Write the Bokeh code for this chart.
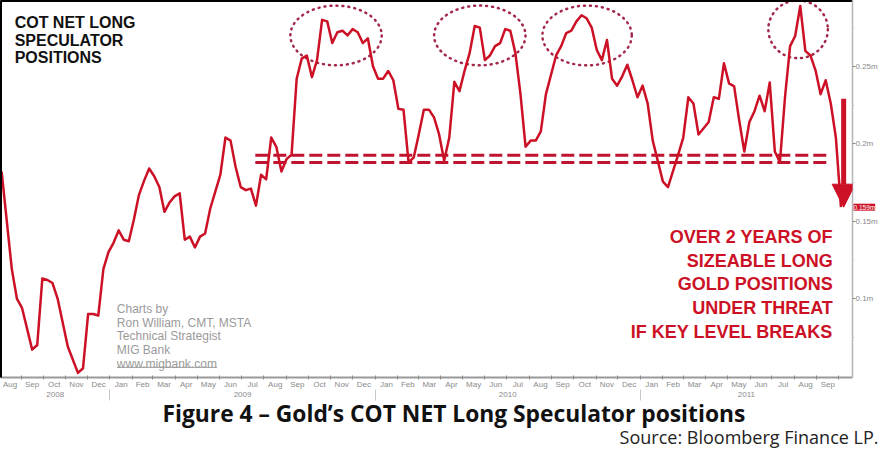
import numpy as np
import pandas as pd
from bokeh.plotting import figure
from bokeh.models import (Range1d, LinearAxis, FixedTicker, CustomJSTickFormatter,
                          Label, Title, Arrow, NormalHead)
from bokeh.embed import file_html
from bokeh.resources import INLINE

# ---------------- data ----------------
first_report = "2008-08-05"          # weekly COT reports
weeks = [0, 2, 3, 4, 6, 7, 8, 9, 10, 11,
         13, 15, 16, 17, 18, 19, 20, 21, 22, 23,
         24, 25, 26, 27, 28, 29, 30, 31, 32, 33,
         34, 35, 36, 37, 38, 39, 40, 41, 43, 44,
         45, 46, 47, 48, 49, 50, 51, 52, 53, 54,
         55, 56, 57, 58, 59, 60, 61, 62, 63, 64,
         65, 66, 67, 68, 69, 70, 71, 72, 73, 74,
         75, 76, 77, 78, 79, 80, 81, 82, 83, 84,
         85, 86, 87, 88, 89, 90, 91, 92, 93, 94,
         95, 96, 97, 98, 99, 100, 101, 102, 103, 104,
         105, 106, 107, 109, 110, 111, 112, 113, 114, 115,
         116, 117, 118, 119, 120, 121, 122, 123, 124, 125,
         126, 127, 128, 130, 131, 133, 134, 135, 136, 137,
         139, 140, 141, 142, 143, 144, 145, 146, 147, 148,
         149, 150, 151, 152, 153, 154, 155, 156, 157, 158,
         159, 160, 161, 162, 163, 164, 165]
net_long_m = [0.182, 0.119, 0.100, 0.094, 0.067, 0.070, 0.113, 0.112, 0.110, 0.100,
              0.069, 0.052, 0.055, 0.090, 0.090, 0.089, 0.119, 0.130, 0.136, 0.144,
              0.138, 0.137, 0.151, 0.167, 0.176, 0.184, 0.179, 0.172, 0.156, 0.162,
              0.166, 0.168, 0.138, 0.140, 0.133, 0.140, 0.142, 0.158, 0.180, 0.204,
              0.202, 0.185, 0.172, 0.170, 0.171, 0.160, 0.180, 0.177, 0.204, 0.198,
              0.182, 0.190, 0.193, 0.242, 0.255, 0.257, 0.243, 0.254, 0.280, 0.279,
              0.265, 0.272, 0.273, 0.270, 0.274, 0.272, 0.265, 0.268, 0.250, 0.242,
              0.242, 0.247, 0.241, 0.2225, 0.222, 0.188, 0.191, 0.206, 0.222, 0.222,
              0.217, 0.206, 0.189, 0.204, 0.240, 0.234, 0.247, 0.2585, 0.276, 0.275,
              0.254, 0.257, 0.263, 0.265, 0.274, 0.273, 0.2585, 0.232, 0.198, 0.202,
              0.202, 0.208, 0.232, 0.257, 0.263, 0.2715, 0.273, 0.279, 0.283, 0.281,
              0.275, 0.2605, 0.254, 0.267, 0.242, 0.2375, 0.2435, 0.251, 0.241, 0.230,
              0.2375, 0.226, 0.202, 0.1755, 0.172, 0.193, 0.204, 0.230, 0.226, 0.206,
              0.214, 0.230, 0.229, 0.252, 0.239, 0.237, 0.215, 0.195, 0.214, 0.221,
              0.231, 0.221, 0.2395, 0.195, 0.188, 0.230, 0.263, 0.2696, 0.289, 0.260,
              0.257, 0.2474, 0.232, 0.241, 0.226, 0.204, 0.159]
support_levels_m = [0.1925, 0.1878]
y_ticks_m = [0.10, 0.15, 0.20, 0.25]
last_value_m = net_long_m[-1]

title_lines = ["COT NET LONG", "SPECULATOR", "POSITIONS"]
credit_lines = ["Charts by", "Ron William, CMT, MSTA", "Technical Strategist",
                "MIG Bank", "www.migbank.com"]
warning_lines = ["OVER 2 YEARS OF", "SIZEABLE LONG", "GOLD POSITIONS",
                 "UNDER THREAT", "IF KEY LEVEL BREAKS"]
caption = "Figure 4 \u2013 Gold\u2019s COT NET Long Speculator positions"
source = "Source: Bloomberg Finance LP."

# ---------------- time axis (months since Aug 2008) ----------------
origin = pd.Timestamp("2008-08-01")
MONTH = 30.4375
dates = pd.Timestamp(first_report) + pd.to_timedelta(np.array(weeks) * 7, unit="D")
xs = ((dates - origin).days / MONTH).to_numpy()

month_starts = pd.date_range("2008-08-01", "2011-10-01", freq="MS")
mb = ((month_starts - origin).days / MONTH).to_numpy()
month_centers = list((mb[:-1] + mb[1:]) / 2)
month_labels = [d.strftime("%b") for d in month_starts[:-1]]

X0, X1 = 0.08, 38.6
year_bounds = [float(((pd.Timestamp(f"{y}-01-01") - origin).days) / MONTH) for y in (2009, 2010, 2011)]
edges = [X0] + year_bounds + [X1]
year_centers = [(edges[i] + edges[i + 1]) / 2 for i in range(4)]
year_labels = ["2008", "2009", "2010", "2011"]

RED = "#cc1126"
DARK_RED = "#bf1430"
DOT = "#a3284a"
NO_LABEL = dict(axis_label=None, axis_label_standoff=0, axis_label_text_font_size="0px")

p = figure(width=880, height=453, output_backend="svg", toolbar_location=None,
           x_range=Range1d(X0, X1), y_range=Range1d(0.049, 0.2925),
           x_axis_location=None, y_axis_location="right",
           min_border_left=0, min_border_right=0, min_border_top=0, min_border_bottom=0)
p.grid.visible = False
p.outline_line_color = None
p.background_fill_color = "white"

# right value axis
ya = p.yaxis[0]
ya.update(**NO_LABEL)
ya.ticker = FixedTicker(ticks=y_ticks_m, minor_ticks=[0.075, 0.125, 0.175, 0.225, 0.275])
ya.formatter = CustomJSTickFormatter(code="return tick.toFixed(2).replace(/0$/, '') + 'm';")
ya.major_label_text_font_size = "8px"
ya.major_label_text_font = "Liberation Sans"
ya.major_label_text_color = "#8a8a8a"
ya.major_label_standoff = 0
ya.axis_line_color = "#b5b5b5"
ya.axis_line_width = 1.5
ya.major_tick_in = 0
ya.major_tick_out = 3
ya.major_tick_line_color = "#888888"
ya.minor_tick_in = 0
ya.minor_tick_out = 2
ya.minor_tick_line_color = "#cccccc"

# frame lines (left / top) as bare axes
for side in ("left", "above"):
    ax = LinearAxis(ticker=FixedTicker(ticks=[]), axis_line_width=3, axis_line_color="black",
                    major_label_text_font_size="0px", major_tick_line_color=None,
                    minor_tick_line_color=None, major_label_standoff=0, **NO_LABEL)
    p.add_layout(ax, side)

lookup = """
let b = 0;
for (let i = 0; i < c.length; i++) { if (Math.abs(c[i] - tick) < Math.abs(c[b] - tick)) b = i; }
return lab[b];
"""
xa = LinearAxis(ticker=FixedTicker(ticks=month_centers, minor_ticks=list(mb)),
                formatter=CustomJSTickFormatter(args=dict(c=month_centers, lab=month_labels), code=lookup),
                major_tick_line_color=None, major_tick_out=0, major_tick_in=0,
                minor_tick_in=2, minor_tick_out=2,
                minor_tick_line_color="#8a8a8a", axis_line_color="#9a9a9a", axis_line_width=2,
                major_label_text_font_size="8px", major_label_text_font="Liberation Sans",
                major_label_text_color="#8a8a8a", major_label_standoff=0, **NO_LABEL)
p.add_layout(xa, "below")

yr = LinearAxis(ticker=FixedTicker(ticks=year_centers, minor_ticks=year_bounds),
                formatter=CustomJSTickFormatter(args=dict(c=year_centers, lab=year_labels), code=lookup),
                axis_line_color=None, major_tick_line_color=None, major_tick_out=0, major_tick_in=0,
                minor_tick_in=2, minor_tick_out=9,
                minor_tick_line_color="#c8c8c8", major_label_text_font_size="8px",
                major_label_text_font="Liberation Sans", major_label_text_color="#8a8a8a",
                major_label_standoff=-9, **NO_LABEL)
p.add_layout(yr, "below")

p.add_layout(Title(text=caption, align="left", offset=162, standoff=-8, text_font="Open Sans",
                   text_font_size="22.8px", text_font_style="bold", text_color="#111111"), "below")
p.add_layout(Title(text=source, align="right", offset=-26, standoff=-4, text_font="Open Sans",
                   text_font_size="18px", text_font_style="normal", text_color="#222222"), "below")

# support lines
sx0, sx1 = 11.6, 37.5
for lvl in support_levels_m:
    p.line([sx0, sx1], [lvl, lvl], line_color=DARK_RED, line_width=3, line_dash="13 5")

# highlight ellipses around the peaks
p.ellipse(x=[15.25, 21.75, 26.6, 36.14], y=[0.2699, 0.2699, 0.2699, 0.2739],
          width=[4.13, 4.13, 4.04, 2.69], height=[0.0386, 0.0386, 0.0386, 0.0373],
          fill_color=None, line_color=DOT, line_width=2.5, line_dash="1 5", line_cap="round")

# main series
p.line(xs, net_long_m, line_color=RED, line_width=2.5, line_join="round")

# arrow
p.add_layout(Arrow(end=NormalHead(size=23, fill_color=RED, line_color=RED),
                   x_start=38.2, y_start=0.229, x_end=38.2, y_end=last_value_m,
                   line_color=RED, line_width=5))

# last-value tag at the right-hand axis (kept in a side panel so it is not clipped)
p.add_layout(Label(x=X1, y=last_value_m, text=f"{last_value_m:.3f}m", x_offset=1,
                   text_font_size="6.5px", text_font="Liberation Sans", text_color="white",
                   text_baseline="middle", background_fill_color=RED), "below")

# texts
for i, t in enumerate(title_lines):
    p.add_layout(Label(x=0.72, y=0.2781 - i * 0.0113, text=t, text_font="Liberation Sans",
                       text_font_size="16px", text_font_style="bold", text_color="#111111",
                       text_baseline="middle"))
for i, t in enumerate(credit_lines):
    p.add_layout(Label(x=5.34, y=0.0931 - i * 0.0088, text=t, text_font="Liberation Sans",
                       text_font_size="12px", text_color="#9a9a9a", text_baseline="middle"))
p.line([5.34, 9.87], [0.0556, 0.0556], line_color="#9a9a9a", line_width=1)
for i, t in enumerate(warning_lines):
    p.add_layout(Label(x=37.71, y=0.1395 - i * 0.0152, text=t, text_font="Liberation Sans",
                       text_font_size="18px", text_font_style="bold", text_color=RED,
                       text_align="right", text_baseline="middle"))

open("out.html", "w").write(file_html(p, INLINE))
